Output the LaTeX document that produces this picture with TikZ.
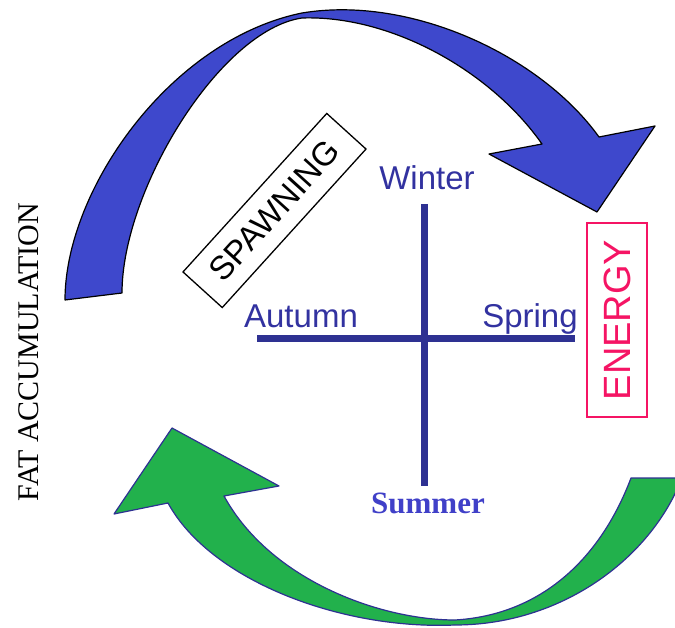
\documentclass[tikz,border=0pt]{standalone}
\usepackage{fontspec}
\setmainfont{Liberation Serif}
\newfontfamily\arialf{Liberation Sans}
\definecolor{arrowblue}{RGB}{62,72,204}
\definecolor{arrowgreen}{RGB}{34,177,76}
\definecolor{axisblue}{RGB}{46,49,146}
\definecolor{seasonblue}{RGB}{50,50,160}
\definecolor{summerblue}{RGB}{64,64,200}
\definecolor{energypink}{RGB}{245,20,100}
\begin{document}
\begin{tikzpicture}[x=1pt,y=-1pt,
  season/.style={font=\arialf\fontsize{33}{33}\selectfont, text=seasonblue, anchor=base, inner sep=0pt},
  summerlabel/.style={font=\bfseries\fontsize{31}{31}\selectfont, text=summerblue, anchor=base, inner sep=0pt},
  axisline/.style={draw=axisblue, line width=7pt},
  bluearrow/.style={fill=arrowblue, draw=black, line width=1.2pt, line join=round},
  greenarrow/.style={fill=arrowgreen, draw=axisblue, line width=1.2pt, line join=round},
  spawnbox/.style={draw=black, line width=1.3pt, font=\arialf\fontsize{33}{33}\selectfont, minimum width=214pt, minimum height=53pt, inner sep=0pt},
  energybox/.style={draw=energypink, text=energypink, line width=2pt, font=\arialf\fontsize{38}{38}\selectfont, minimum width=194pt, minimum height=60pt, inner sep=0pt},
  sidelabel/.style={font=\fontsize{30}{30}\selectfont, inner sep=0pt}]
\useasboundingbox (0,0) rectangle (675,628);
\clip (0,0) rectangle (675,628);

% blue curved arrow
\filldraw[bluearrow]
  (65,300) .. controls (65,190) and (170,40) .. (302,13)
  .. controls (410,-5) and (540,55) .. (599,137)
  -- (655,126) -- (597,212) -- (489,154) -- (542,144)
  .. controls (490,70) and (390,15) .. (302,18)
  .. controls (220,30) and (122,190) .. (122,293)
  -- cycle;

% green curved arrow
\filldraw[greenarrow]
  (631,478) -- (682,478)
  .. controls (650,560) and (560,625) .. (455,625)
  .. controls (340,630) and (210,580) .. (168,503)
  -- (114,514) -- (172,428) -- (279,486) -- (224,496)
  .. controls (270,580) and (380,620) .. (455,620)
  .. controls (540,615) and (600,560) .. (631,478)
  -- cycle;

% cross
\coordinate (vtop) at (424,204);
\coordinate (vbot) at (424,486);
\coordinate (hleft) at (257,339);
\coordinate (hright) at (575,339);
\draw[axisline] (vtop) -- (vbot);
\draw[axisline] (hleft) -- (hright);

% seasons
\node[season] (winter) at (427,190) {Winter};
\node[season] (autumn) at (301,328) {Autumn};
\node[season] (spring) at (530,328) {Spring};
\node[summerlabel] (summer) at (428,513) {Summer};

% boxes and side label
\node[spawnbox, rotate=47.8] (spawning) at (274.5,210.5) {SPAWNING};
\node[energybox, rotate=90] (energy) at (617,320) {ENERGY};
\node[sidelabel, rotate=90] (fat) at (29,352) {FAT ACCUMULATION};
\end{tikzpicture}
\end{document}
